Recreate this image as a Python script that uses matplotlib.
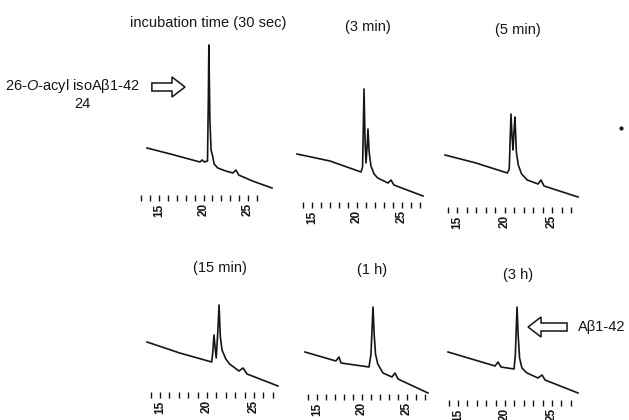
import matplotlib
matplotlib.use("Agg")
import matplotlib.pyplot as plt
from matplotlib.patches import FancyArrow

plt.rcParams['font.family'] = ['Liberation Sans', 'DejaVu Sans']
plt.rcParams['mathtext.fontset'] = 'custom'
plt.rcParams['mathtext.rm'] = 'Liberation Sans'
plt.rcParams['mathtext.it'] = 'Liberation Sans:italic'

# retention time (min) and detector signal (arb. units)
t_30s = [13.65, 16.5, 19.6, 19.85, 20.1, 20.45, 20.55, 20.6, 20.72, 20.85, 21.0, 21.2, 21.6, 22.5, 23.3, 23.65, 23.95, 25.5, 27.7]
s_30s = [47, 40.5, 33, 35, 33, 34, 100, 150, 75, 45, 40, 31, 27, 24, 22, 25, 20, 14, 7]

t_3m = [13.33, 17.0, 20.45, 20.62, 20.78, 20.9, 21.0, 21.12, 21.22, 21.35, 21.55, 21.9, 22.3, 23.45, 23.78, 24.1, 27.33]
s_3m = [48, 41, 30, 35, 113, 60, 39, 55, 73, 50, 36, 28, 24, 19, 22, 17, 6]

t_5m = [13.74, 17.0, 20.3, 20.5, 20.68, 20.8, 20.9, 21.0, 21.1, 21.25, 21.45, 21.8, 22.4, 23.53, 23.84, 24.16, 27.74]
s_5m = [52, 44, 34, 38, 93, 70, 57, 75, 90, 55, 42, 33, 27, 23, 27, 21, 10]

t_15m = [13.62, 17.1, 20.5, 20.62, 20.74, 20.86, 20.98, 21.15, 21.28, 21.42, 21.6, 22.0, 22.4, 23.4, 23.83, 24.26, 27.55]
s_15m = [50, 39, 30, 40, 57, 45, 34, 60, 87, 55, 42, 33, 28, 21, 24, 18, 6]

t_1h = [13.67, 17.1, 17.44, 17.67, 20.78, 21.0, 21.22, 21.35, 21.5, 21.75, 22.33, 23.33, 23.67, 24.0, 27.33]
s_1h = [42, 33, 37, 31, 27, 40, 87, 60, 40, 30, 21, 17, 21, 15, 1]

t_3h = [13.94, 18.94, 19.26, 19.57, 20.96, 21.1, 21.28, 21.4, 21.55, 21.8, 22.34, 23.51, 23.94, 24.26, 27.77]
s_3h = [48, 34, 38, 33, 31, 45, 93, 65, 42, 32, 27, 22, 25, 20, 7]

titles = ['incubation time (30 sec)', '(3 min)', '(5 min)', '(15 min)', '(1 h)', '(3 h)']
labeled_ticks = [15, 20, 25]

# layout in pixels: x of the "15" tick, px per minute, bottom of axes,
# first tick, title position (min, signal)
panels = [
    (t_30s, s_30s, 159, 8.9, 195, 13, (20.5, 172)),
    (t_3m, s_3m, 312, 9.0, 202, 14, (21.2, 175)),
    (t_5m, s_5m, 457, 9.5, 207, 14, (21.4, 177)),
    (t_15m, s_15m, 160, 9.4, 392, 14, (21.4, 124)),
    (t_1h, s_1h, 317, 9.0, 394, 14, (21.1, 124)),
    (t_3h, s_3h, 458, 9.4, 400, 14, (21.4, 125)),
]

W, H = 629, 420
fig = plt.figure(figsize=(W / 100, H / 100), dpi=100)
ink = '#151515'

axes = []
for i, (t, s, x15, ppm, bot, first, tpos) in enumerate(panels):
    left = x15 - 2.5 * ppm
    ax = fig.add_axes([left / W, 1 - bot / H, 16 * ppm / W, 160 / H])
    ax.set_facecolor('none')
    ax.plot(t, s, color=ink, lw=1.2, clip_on=False)
    ax.set_xlim(12.5, 28.5)
    ax.set_ylim(0, 160)
    for sp in ax.spines.values():
        sp.set_visible(False)
    ax.set_yticks([])
    ticks = list(range(first, first + 14))
    ax.set_xticks(ticks)
    ax.set_xticklabels([str(k) if k in labeled_ticks else '' for k in ticks],
                       rotation=90, fontsize=8.5, fontweight='bold', va='top')
    ax.tick_params(axis='x', direction='out', length=4.5, width=1.0,
                   pad=1.5, color=ink, labelcolor=ink)
    ax.text(tpos[0], tpos[1], titles[i], ha='center', va='center',
            fontsize=10.5, color=ink, clip_on=False)
    axes.append(ax)

# arrow and label for the O-acyl isopeptide peak
ax1 = axes[0]
ax1.add_patch(FancyArrow(14.2, 108, 5.18 - 13 / 8.9, 0, width=8, head_width=20,
                         head_length=13 / 8.9, length_includes_head=True,
                         facecolor='white', edgecolor=ink, lw=1.1,
                         clip_on=False))
ax1.text(12.9, 109, '26-$\\it{O}$-acyl isoA\u03b21-42', ha='right', va='center',
         fontsize=10.5, color=ink, clip_on=False)
ax1.text(6.35, 91, '24', ha='center', va='center', fontsize=10.5,
         color=ink, clip_on=False)

# arrow and label for the native peptide peak
ax6 = axes[5]
ax6.add_patch(FancyArrow(26.6, 73, 22.45 - 26.6, 0, width=8, head_width=20,
                         head_length=13 / 9.4, length_includes_head=True,
                         facecolor='white', edgecolor=ink, lw=1.1,
                         clip_on=False))
ax6.text(27.77, 73, 'A\u03b21-42', ha='left', va='center', fontsize=10.5,
         color=ink, clip_on=False)

# speck on the scan
axes[2].plot([32.26], [79], 'o', ms=2, color=ink, clip_on=False)

fig.savefig('out.png', dpi=100)
